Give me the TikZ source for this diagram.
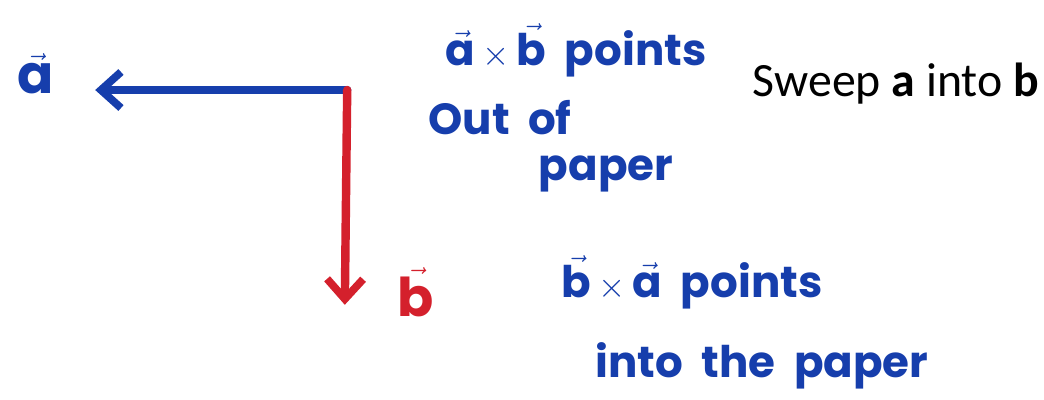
\documentclass[tikz,border=0pt]{standalone}
\usepackage{amsmath}
\usepackage{fontspec}
\newfontfamily\markerfont{Poppins}
\newfontfamily\slidefont{Carlito}
\usetikzlibrary{arrows.meta,positioning}
\definecolor{handblue}{RGB}{22,62,172}
\definecolor{handred}{RGB}{212,32,44}
\newcommand{\hv}[1]{\ensuremath{\vec{\text{#1}}}}

\begin{document}
\begin{tikzpicture}[>={Straight Barb[length=5mm,width=9mm,line width=5.5pt]},
  marker/.style={font=\markerfont\bfseries\fontsize{31}{36}\selectfont,handblue,align=center,inner sep=0pt},
  veclab/.style={marker,font=\markerfont\bfseries\fontsize{38}{42}\selectfont},
  vecline/.style={line width=6pt,line cap=round}]
\useasboundingbox (0,0) rectangle (26.1,-9.975);
%% corner where both vectors start
\coordinate (O) at (8.68,-2.25);
\coordinate (aend) at (2.38,-2.25);
\coordinate (bend) at (8.62,-7.62);
\draw[vecline,handblue,->] (O) -- (aend);
\draw[vecline,handred,->] (O) -- (bend);
\node[veclab] (alab) at (0.9,-1.85) {\hv{a}};
\node[veclab,handred] (blab) at (10.4,-7.3) {\hv{b}};
%% notes beside the vectors
\node[marker] (ab1) at (14.4,-1.25) {\hv{a}\,$\times$\,\hv{b}\ \ points};
\node[marker] (ab2) at (12.5,-2.95) {Out\ \ of};
\node[marker] (ab3) at (15.15,-4.35) {paper};
\node[font=\slidefont\fontsize{34}{40}\selectfont] (sweep) at (22.4,-2.1) {Sweep \textbf{a} into \textbf{b}};
\node[marker] (ba1) at (17.3,-7.05) {\hv{b}\,$\times$\,\hv{a}\ \ points};
\node[marker] (ba2) at (19.05,-9.15) {into\ \ the\ \ paper};
\end{tikzpicture}
\end{document}
